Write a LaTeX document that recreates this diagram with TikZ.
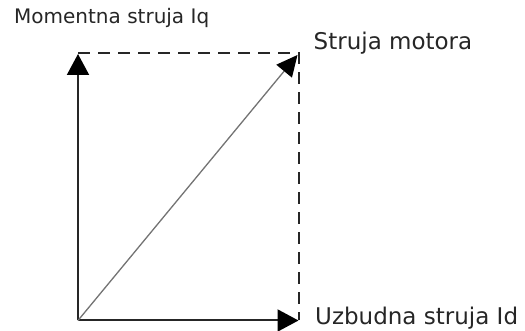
\documentclass[tikz,border=0pt]{standalone}
\usepackage{fontspec}
\setmainfont{DejaVu Sans}
\usepackage{tikz}
\usetikzlibrary{arrows.meta, positioning}

\tikzset{
  axis/.style={line width=2pt, black!85, -{Triangle[length=21pt,width=22pt,color=black]}},
  vec/.style={line width=1.3pt, black!55, -{Triangle[length=21pt,width=20pt,color=black]}},
  proj/.style={line width=2pt, black!85, dash pattern=on 12pt off 8pt},
  lbl/.style={inner sep=0pt, anchor=base west, text=black!85}
}

\begin{document}
\begin{tikzpicture}[x=1pt,y=1pt]
  \useasboundingbox (0,0) rectangle (525,331);
  % Corners
  \coordinate (O) at (78,10.5);
  \coordinate (D) at (298.5,10.5);
  \coordinate (Q) at (78,278);
  \coordinate (M) at (298.5,278);
  % Dashed projections
  \draw[proj] (Q) -- (M) -- (D);
  % Components and resulting current
  \draw[axis] (O) -- (D);
  \draw[axis] (O) -- ([yshift=-1pt]Q);
  \draw[vec] (O) -- ([xshift=-1pt,yshift=-2pt]M);
  % Labels
  \node[lbl, font=\fontsize{20}{23}\selectfont] (iq) at (14,307) {Momentna struja Iq};
  \node[lbl, font=\fontsize{23}{26}\selectfont] (im) at (313.5,281) {Struja motora};
  \node[lbl, font=\fontsize{23}{26}\selectfont] (id) at (315,6) {Uzbudna struja Id};
\end{tikzpicture}
\end{document}
